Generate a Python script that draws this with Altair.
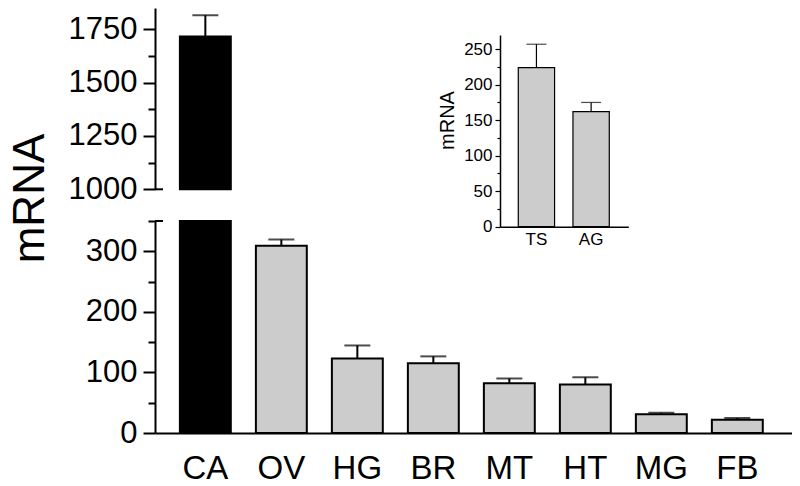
import altair as alt
import pandas as pd

# ---------------- data ----------------
cats = ["CA", "OV", "HG", "BR", "MT", "HT", "MG", "FB"]
vals = [1716, 309, 123, 115, 82, 80, 31, 22]
errs = [100, 10.5, 21.5, 11.5, 8, 12, 2.3, 2.8]
bar_fills = ["#000000", "#cccccc", "#cccccc", "#cccccc", "#cccccc", "#cccccc", "#cccccc", "#cccccc"]

inset_cats = ["TS", "AG"]
inset_vals = [224, 162]
inset_errs = [33, 13]

low_ticks = [0, 50, 100, 150, 200, 250, 300, 350]
high_ticks = [1000, 1125, 1250, 1375, 1500, 1625, 1750]
inset_ticks = [0, 25, 50, 75, 100, 125, 150, 175, 200, 225, 250]
low_domain = [0, 350]
high_domain = [1000, 1850]
inset_domain = [0, 270]

# ---------------- layout ----------------
FONT = "Liberation Sans"
W, H = 637, 425

main = pd.DataFrame({"tissue": cats, "value": vals, "err": errs, "fill": bar_fills})
main["hi"] = main["value"] + main["err"]
main["low_top"] = main["value"].clip(upper=low_domain[1])
low_err = main[main["hi"] <= low_domain[1]]
high = main[main["value"] > high_domain[0]].assign(base=high_domain[0])

ins = pd.DataFrame({"tissue": inset_cats, "value": inset_vals, "err": inset_errs})
ins["hi"] = ins["value"] + ins["err"]

x_scale = alt.Scale(domain=cats, paddingInner=0.33, paddingOuter=0.356, align=0.46)
x_axis = alt.Axis(title=None, labelAngle=0, ticks=False, tickSize=0, labelFontSize=33,
                  labelPadding=45, labelBaseline="alphabetic", domainWidth=2,
                  domainColor="black", labelColor="black", labelFont=FONT)

# ---- lower segment ----
y_scale_low = alt.Scale(domain=low_domain, range=[425, 213], nice=False)
y_axis_low = alt.Axis(
    orient="left", values=low_ticks, grid=False, labelOverlap=False, format="d",
    labelExpr="datum.value % 100 === 0 ? datum.label : ''",
    tickSize={"condition": {"test": "datum.value % 100 === 0", "value": 12}, "value": 7},
    tickWidth=2, domainWidth=2, labelFontSize=31, labelPadding=6,
    title="mRNA", titleFontSize=44, titleFontWeight="normal", titleX=-112, titleY=190,
    titleAngle=270, titleAlign="center", titleBaseline="alphabetic", titleColor="black",
)
x_low = alt.X("tissue:N", sort=cats, scale=x_scale, axis=x_axis)

bars_low = alt.Chart(main).mark_bar(stroke="black", strokeWidth=2).encode(
    x=x_low,
    y=alt.Y("low_top:Q", scale=y_scale_low, axis=y_axis_low),
    fill=alt.Fill("fill:N", scale=None),
)
err_low_rule = alt.Chart(low_err).mark_rule(color="black", strokeWidth=2).encode(
    x=x_low, y=alt.Y("value:Q", scale=y_scale_low, axis=y_axis_low), y2="hi:Q"
)
err_low_cap = alt.Chart(low_err).mark_tick(color="black", size=26, thickness=2).encode(
    x=x_low, y=alt.Y("hi:Q", scale=y_scale_low, axis=y_axis_low)
)
break_low = alt.Chart(pd.DataFrame({"v": [low_domain[1]]})).mark_rule(color="black", strokeWidth=2).encode(
    y=alt.Y("v:Q", scale=y_scale_low, axis=y_axis_low), x=alt.value(0), x2=alt.value(8)
)
lower = alt.layer(bars_low, err_low_rule, err_low_cap, break_low)

# ---- upper segment ----
y_scale_high = alt.Scale(domain=high_domain, range=[181.3, 0], nice=False, zero=False)
y_axis_high = alt.Axis(
    orient="left", values=high_ticks, grid=False, labelOverlap=False, title=None, format="d",
    labelExpr="(datum.value - 1000) % 250 === 0 ? datum.label : ''",
    tickSize={"condition": {"test": "(datum.value - 1000) % 250 === 0", "value": 12}, "value": 7},
    tickWidth=2, domainWidth=2, labelFontSize=31, labelPadding=6,
)
x_high = alt.X("tissue:N", sort=cats, scale=x_scale, axis=None)

bars_high = alt.Chart(high).mark_bar(stroke="black", strokeWidth=2).encode(
    x=x_high,
    y=alt.Y("value:Q", scale=y_scale_high, axis=y_axis_high),
    y2="base:Q",
    fill=alt.Fill("fill:N", scale=None),
)
err_high_rule = alt.Chart(high).mark_rule(color="black", strokeWidth=2).encode(
    x=x_high, y=alt.Y("value:Q", scale=y_scale_high, axis=y_axis_high), y2="hi:Q"
)
err_high_cap = alt.Chart(high).mark_tick(color="black", size=26, thickness=2).encode(
    x=x_high, y=alt.Y("hi:Q", scale=y_scale_high, axis=y_axis_high)
)
break_high = alt.Chart(pd.DataFrame({"v": [high_domain[0]]})).mark_rule(color="black", strokeWidth=2).encode(
    y=alt.Y("v:Q", scale=y_scale_high, axis=y_axis_high), x=alt.value(0), x2=alt.value(8)
)
upper = alt.layer(bars_high, err_high_rule, err_high_cap, break_high)

# ---- inset ----
x_scale_in = alt.Scale(domain=inset_cats, range=[345, 473.3], paddingInner=0.336,
                       paddingOuter=0.341, align=0.49)
x_axis_in = alt.Axis(orient="bottom", offset=-206.3, title=None, labelAngle=0, ticks=False,
                     tickSize=0, labelFontSize=17, labelPadding=5, labelBaseline="top",
                     domainWidth=1.5)
y_scale_in = alt.Scale(domain=inset_domain, range=[218.7, 27], nice=False)
y_axis_in = alt.Axis(
    orient="left", offset=-345, values=inset_ticks, grid=False, labelOverlap=False,
    labelExpr="datum.value % 50 === 0 ? datum.label : ''",
    tickSize={"condition": {"test": "datum.value % 50 === 0", "value": 5}, "value": 3},
    tickWidth=1.2, domainWidth=1.5, labelFontSize=17, labelPadding=3,
    title="mRNA", titleFontSize=20, titleFontWeight="normal", titleX=-47, titleY=112,
    titleAngle=270, titleAlign="center", titleBaseline="alphabetic", titleColor="black",
)
x_in = alt.X("tissue:N", sort=inset_cats, scale=x_scale_in, axis=x_axis_in)

bars_in = alt.Chart(ins).mark_bar(stroke="black", strokeWidth=1.2, fill="#cccccc").encode(
    x=x_in, y=alt.Y("value:Q", scale=y_scale_in, axis=y_axis_in)
)
err_in_rule = alt.Chart(ins).mark_rule(color="black", strokeWidth=1.2).encode(
    x=x_in, y=alt.Y("value:Q", scale=y_scale_in, axis=y_axis_in), y2="hi:Q"
)
err_in_cap = alt.Chart(ins).mark_tick(color="black", size=20, thickness=1.2).encode(
    x=x_in, y=alt.Y("hi:Q", scale=y_scale_in, axis=y_axis_in)
)
inset = alt.layer(bars_in, err_in_rule, err_in_cap)

chart = (
    alt.layer(lower, upper, inset)
    .resolve_scale(x="independent", y="independent")
    .resolve_axis(x="independent", y="independent")
    .properties(
        width=W, height=H,
        autosize=alt.AutoSizeParams(type="none"),
        padding={"left": 147, "top": 0, "right": 0, "bottom": 54},
        background="white",
    )
    .configure_view(stroke=None)
    .configure_axis(grid=False, domainColor="black", tickColor="black", labelColor="black",
                    labelFont=FONT, titleFont=FONT, titleColor="black")
)

chart.save("out.html", embed_options={"renderer": "svg", "actions": False})
